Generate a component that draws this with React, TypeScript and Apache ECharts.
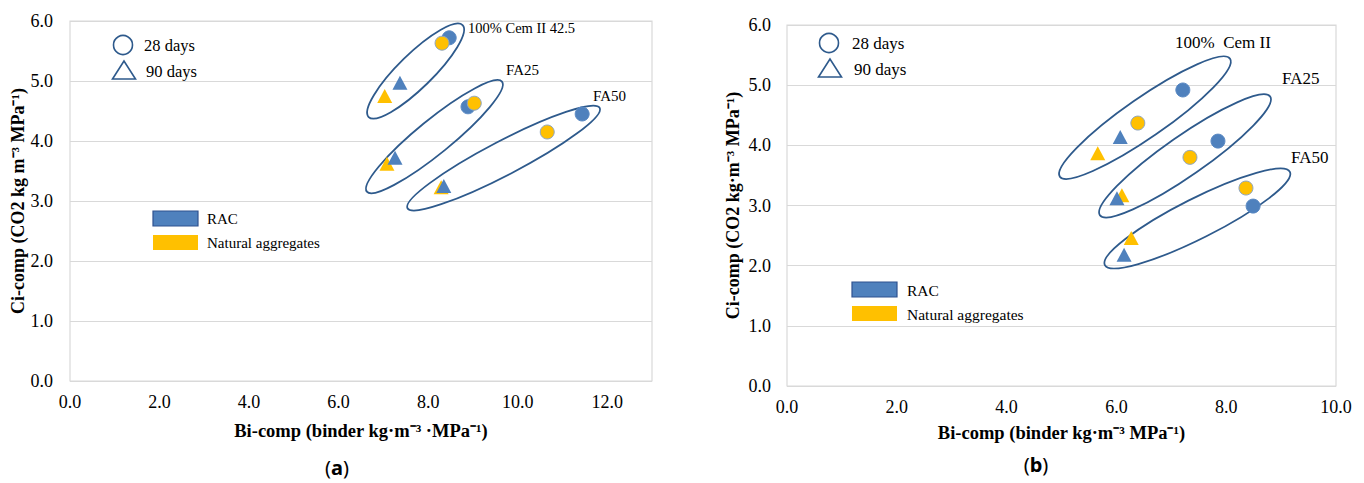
import React, { useEffect, useRef } from "react";
import * as echarts from "echarts";

// ---- Panel (a) data ----
const aRac28 = [[8.47, 5.72], [8.89, 4.57], [11.44, 4.45]];
const aNat28 = [[8.31, 5.63], [9.03, 4.63], [10.66, 4.15]];
const aRac90 = [[7.37, 4.97], [7.26, 3.72], [8.35, 3.25]];
const aNat90 = [[7.03, 4.75], [7.08, 3.62], [8.29, 3.23]];
// ellipse major-axis end points [x1, y1, x2, y2]
const aGroups = [
  [6.67, 4.4, 8.77, 5.93],
  [6.63, 3.155, 9.65, 4.99],
  [7.54, 2.88, 11.83, 4.55],
];
const aGroupNames = ["100% Cem II 42.5", "FA25", "FA50"];

// ---- Panel (b) data ----
const bRac28 = [[7.21, 4.92], [7.85, 4.07], [8.49, 2.99]];
const bNat28 = [[6.39, 4.37], [7.34, 3.8], [8.36, 3.29]];
const bRac90 = [[6.07, 4.14], [6.01, 3.12], [6.14, 2.18]];
const bNat90 = [[5.66, 3.87], [6.1, 3.17], [6.27, 2.46]];
const bGroups = [
  [4.97, 3.48, 8.07, 5.44],
  [5.7, 2.84, 8.8, 4.81],
  [5.79, 2.01, 9.16, 3.56],
];
const bGroupNames = ["100%  Cem II", "FA25", "FA50"];

const legendAges = ["28 days", "90 days"];
const legendTypes = ["RAC", "Natural aggregates"];

const BLUE = "#4F81BD";
const YELLOW = "#FFC000";
const DARK = "#2E5A8C";
const SERIF = "Liberation Serif";

function ellipseSeries(idx: number, data: number[][], ry: number) {
  return {
    type: "custom",
    xAxisIndex: idx,
    yAxisIndex: idx,
    clip: false,
    silent: true,
    z: 1,
    encode: { x: [0, 2], y: [1, 3] },
    data,
    renderItem: (params: any, api: any) => {
      const p1 = api.coord([api.value(0), api.value(1)]);
      const p2 = api.coord([api.value(2), api.value(3)]);
      const cx = (p1[0] + p2[0]) / 2;
      const cy = (p1[1] + p2[1]) / 2;
      const dx = p2[0] - p1[0];
      const dy = p2[1] - p1[1];
      const rx = Math.sqrt(dx * dx + dy * dy) / 2;
      return {
        type: "ellipse",
        x: cx,
        y: cy,
        rotation: Math.atan2(-dy, dx),
        shape: { cx: 0, cy: 0, rx, ry },
        style: { fill: "none", stroke: DARK, lineWidth: 1.8 },
      };
    },
  };
}

function scatter(idx: number, data: number[][], color: string, symbol: string, z: number) {
  const isCircle = symbol === "circle";
  return {
    type: "scatter",
    xAxisIndex: idx,
    yAxisIndex: idx,
    data,
    symbol,
    symbolSize: isCircle ? 14 : [15, 14],
    z,
    itemStyle: {
      color,
      borderColor: isCircle ? (color === YELLOW ? "#8EA6C4" : "#5B8AC4") : color,
      borderWidth: isCircle ? 1 : 0,
      opacity: 1,
    },
  };
}

function xAxis(idx: number, max: number, nameGap: number, name: string) {
  return {
    type: "value",
    gridIndex: idx,
    min: 0,
    max,
    interval: 2,
    name,
    nameLocation: "middle",
    nameGap,
    nameTextStyle: { fontFamily: SERIF, fontWeight: "bold", fontSize: 18.5, color: "#000" },
    axisLine: { show: false },
    axisTick: { show: false },
    splitLine: { show: false },
    axisLabel: {
      showMaxLabel: max % 2 === 0,
      formatter: (v: number) => v.toFixed(1),
      fontFamily: SERIF,
      fontSize: 18,
      color: "#000",
      margin: 12,
    },
  };
}

function yAxis(idx: number, nameGap: number, labelMargin: number, name: string) {
  return {
    type: "value",
    gridIndex: idx,
    min: 0,
    max: 6,
    interval: 1,
    name,
    nameLocation: "middle",
    nameGap,
    nameTextStyle: { fontFamily: SERIF, fontWeight: "bold", fontSize: 18, color: "#000" },
    axisLine: { show: false },
    axisTick: { show: false },
    splitLine: { show: true, lineStyle: { color: "#d9d9d9", width: 1.2 } },
    axisLabel: {
      formatter: (v: number) => v.toFixed(1),
      fontFamily: SERIF,
      fontSize: 18,
      color: "#000",
      margin: labelMargin,
    },
  };
}

function legendGraphics(cx: number, cy: number, tx: number, fs: number, rx: number, ry: number, rtx: number, rfs: number) {
  const t = (x: number, y: number, s: string, size: number) => ({
    type: "text",
    x,
    y,
    style: { text: s, fontFamily: SERIF, fontSize: size, fill: "#000", textVerticalAlign: "middle", textAlign: "left" },
  });
  return [
    { type: "circle", shape: { cx, cy, r: 9.5 }, style: { fill: "#fff", stroke: DARK, lineWidth: 1.6 } },
    t(tx, cy, legendAges[0], fs),
    {
      type: "polygon",
      shape: { points: [[cx + 1, cy + 16], [cx - 10.5, cy + 34], [cx + 12.5, cy + 34]] },
      style: { fill: "#fff", stroke: DARK, lineWidth: 1.6 },
    },
    t(tx + 2, cy + 26, legendAges[1], fs),
    { type: "rect", shape: { x: rx, y: ry, width: 45, height: 15 }, style: { fill: BLUE, stroke: "#2F528F", lineWidth: 1.2 } },
    t(rtx, ry + 8, legendTypes[0], rfs),
    { type: "rect", shape: { x: rx, y: ry + 24, width: 45, height: 15 }, style: { fill: YELLOW } },
    t(rtx, ry + 32, legendTypes[1], rfs),
  ];
}

function label(x: number, y: number, s: string, size: number) {
  return {
    type: "text",
    x,
    y,
    style: { text: s, fontFamily: SERIF, fontSize: size, fill: "#000", textVerticalAlign: "middle", textAlign: "left" },
  };
}

function panelTag(x: number, y: number, letter: string) {
  return {
    type: "text",
    x,
    y,
    style: {
      text: "{p|(}{b|" + letter + "}{p|)}",
      textAlign: "center",
      textVerticalAlign: "middle",
      rich: {
        p: { fontFamily: "Noto Sans", fontSize: 20, fill: "#000", color: "#000" },
        b: { fontFamily: "Noto Sans", fontSize: 20, fontWeight: "bold", fill: "#000", color: "#000" },
      },
    },
  };
}

export default function App() {
  const ref = useRef<HTMLDivElement>(null);
  useEffect(() => {
    if (!ref.current) return;
    const chart = echarts.init(ref.current, null, { renderer: "svg" });
    chart.setOption({
      animation: false,
      backgroundColor: "#fff",
      textStyle: { fontFamily: SERIF },
      grid: [
        { left: 70, top: 21, width: 582, height: 360, show: true, borderColor: "#d9d9d9", borderWidth: 1.2, backgroundColor: "transparent" },
        { left: 787, top: 25, width: 549, height: 361, show: true, borderColor: "#d9d9d9", borderWidth: 1.2, backgroundColor: "transparent" },
      ],
      xAxis: [
        xAxis(0, 13, 40, "Bi-comp (binder kg·m⁻³ ·MPa⁻¹)"),
        xAxis(1, 10, 37, "Bi-comp (binder kg·m⁻³ MPa⁻¹)"),
      ],
      yAxis: [
        yAxis(0, 42, 17, "Ci-comp (CO2 kg m⁻³ MPa⁻¹)"),
        yAxis(1, 45, 16, "Ci-comp (CO2 kg·m⁻³ MPa⁻¹)"),
      ],
      series: [
        ellipseSeries(0, aGroups, 17),
        scatter(0, aRac90, BLUE, "triangle", 3),
        scatter(0, aNat90, YELLOW, "triangle", 2),
        scatter(0, aRac28, BLUE, "circle", 4),
        scatter(0, aNat28, YELLOW, "circle", 5),
        ellipseSeries(1, bGroups, 20),
        scatter(1, bRac90, BLUE, "triangle", 3),
        scatter(1, bNat90, YELLOW, "triangle", 2),
        scatter(1, bRac28, BLUE, "circle", 4),
        scatter(1, bNat28, YELLOW, "circle", 5),
      ],
      graphic: [
        ...legendGraphics(123, 45, 144, 16.5, 153, 211, 207, 15),
        ...legendGraphics(829, 43, 852, 17, 852, 282, 907, 15.5),
        label(468, 28, aGroupNames[0], 14.5),
        label(506, 70, aGroupNames[1], 15),
        label(593, 96, aGroupNames[2], 15),
        label(1175, 42, bGroupNames[0], 17),
        label(1282, 78, bGroupNames[1], 17),
        label(1291, 157, bGroupNames[2], 17),
        panelTag(337, 467, "a"),
        panelTag(1036, 464, "b"),
      ],
    });
    return () => chart.dispose();
  }, []);
  return (
    <div
      ref={ref}
      style={{ position: "fixed", left: 0, top: 0, width: 1364, height: 483, background: "#fff" }}
    />
  );
}
